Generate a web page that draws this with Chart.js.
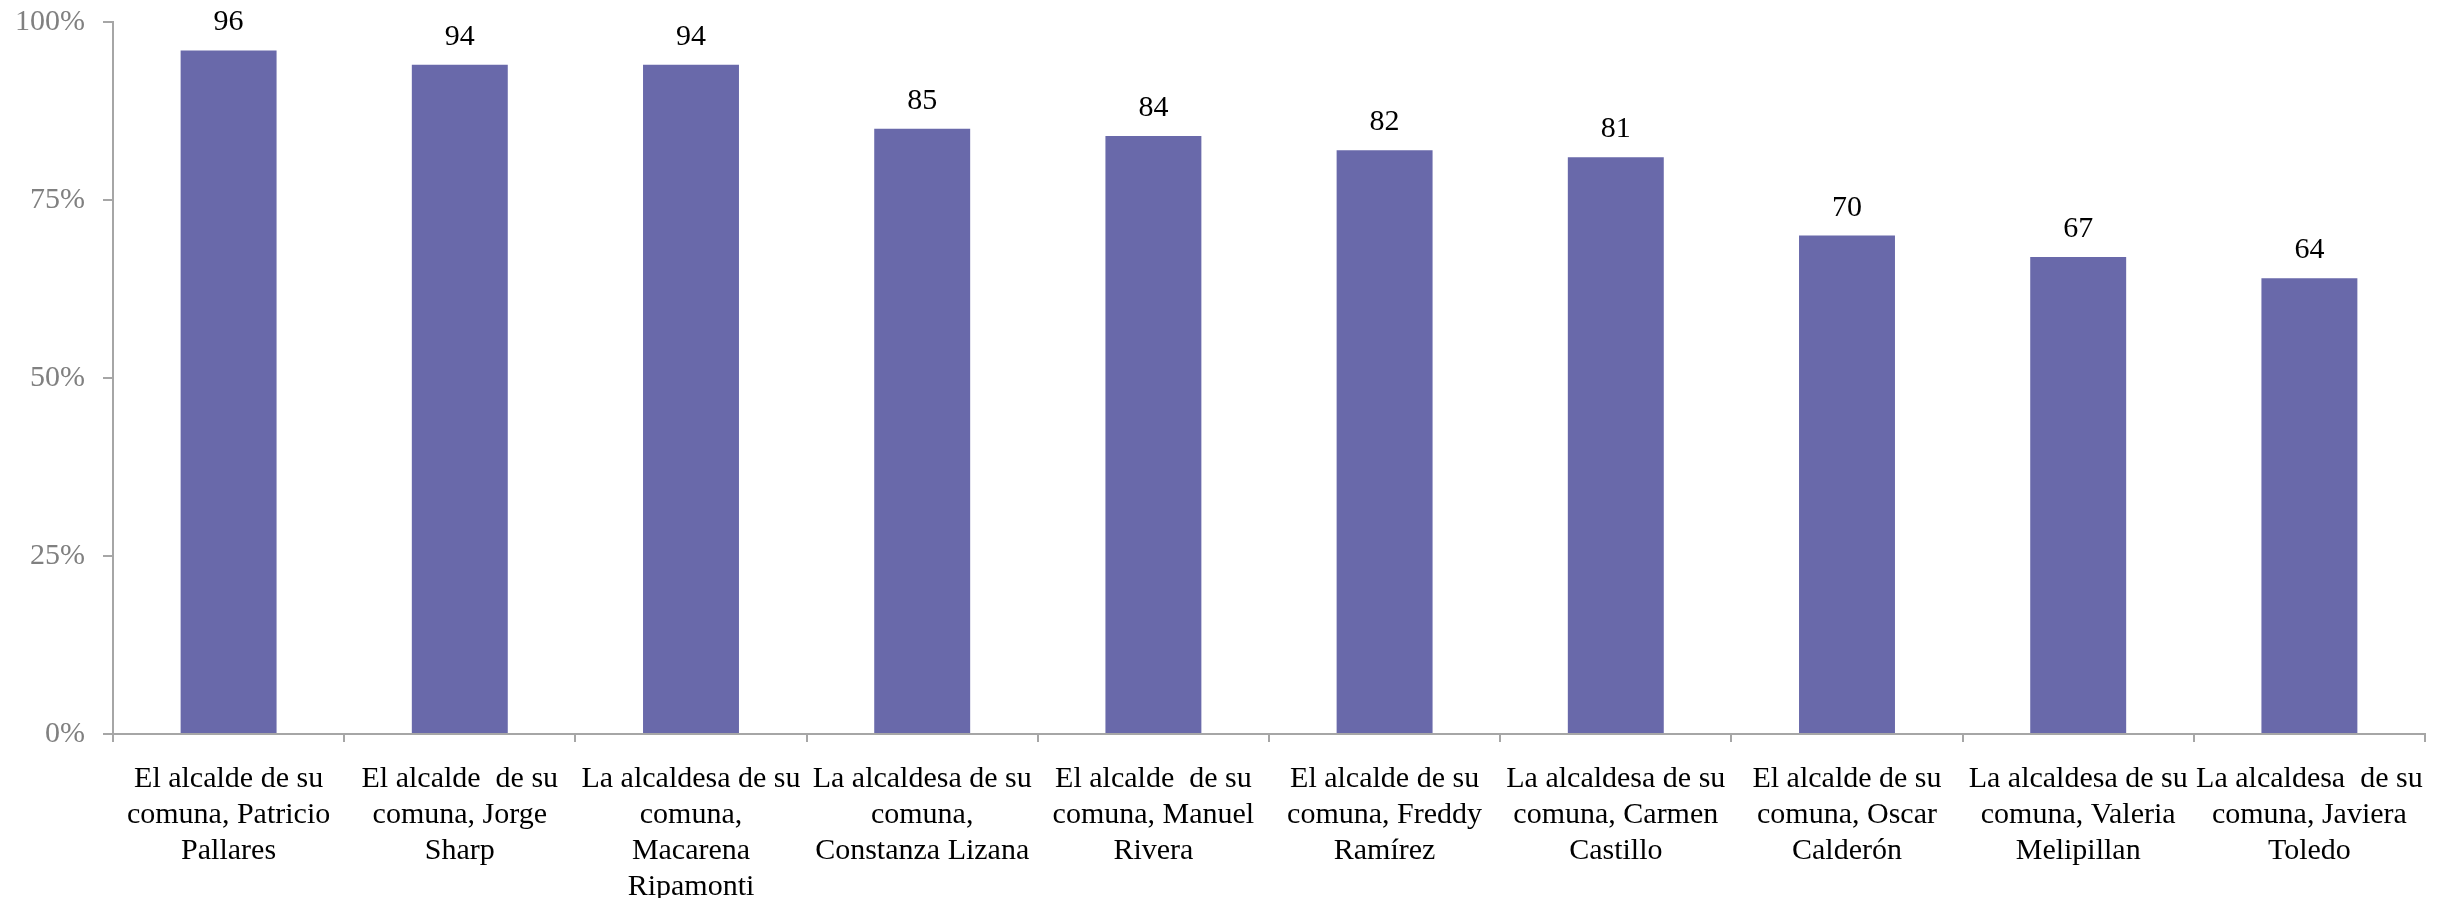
<!DOCTYPE html>
<html>
<head>
<meta charset="utf-8">
<script src="https://cdn.jsdelivr.net/npm/chart.js@4/dist/chart.umd.min.js"></script>
<style>
  html, body { margin: 0; padding: 0; background: #ffffff; }
  #wrap { width: 2450px; height: 898px; position: relative; }
</style>
</head>
<body>
<div id="wrap"><canvas id="c" width="2450" height="898"></canvas></div>
<script>
const categories = [
  ["El alcalde de su", "comuna, Patricio", "Pallares"],
  ["El alcalde  de su", "comuna, Jorge", "Sharp"],
  ["La alcaldesa de su", "comuna,", "Macarena", "Ripamonti"],
  ["La alcaldesa de su", "comuna,", "Constanza Lizana"],
  ["El alcalde  de su", "comuna, Manuel", "Rivera"],
  ["El alcalde de su", "comuna, Freddy", "Ramírez"],
  ["La alcaldesa de su", "comuna, Carmen", "Castillo"],
  ["El alcalde de su", "comuna, Oscar", "Calderón"],
  ["La alcaldesa de su", "comuna, Valeria", "Melipillan"],
  ["La alcaldesa  de su", "comuna, Javiera", "Toledo"]
];
const values = [96, 94, 94, 85, 84, 82, 81, 70, 67, 64];
const yTicks = [0, 25, 50, 75, 100];

const FONT = "'Liberation Serif', 'Times New Roman', serif";

const valueLabels = {
  id: 'valueLabels',
  afterDatasetsDraw(chart) {
    const ctx = chart.ctx;
    const meta = chart.getDatasetMeta(0);
    ctx.save();
    ctx.font = "30px " + FONT;
    ctx.fillStyle = '#000000';
    ctx.textAlign = 'center';
    ctx.textBaseline = 'alphabetic';
    meta.data.forEach((el, i) => {
      ctx.fillText(String(values[i]), el.x, el.y - 20);
    });
    ctx.restore();
  }
};

new Chart(document.getElementById('c'), {
  type: 'bar',
  data: {
    labels: categories,
    datasets: [{
      data: values,
      backgroundColor: '#6969AA',
      borderWidth: 0,
      barPercentage: 0.415,
      categoryPercentage: 1.0
    }]
  },
  options: {
    responsive: false,
    animation: false,
    devicePixelRatio: 1,
    layout: { padding: { top: 22, right: 25, bottom: 0, left: 15 } },
    plugins: { legend: { display: false }, tooltip: { enabled: false } },
    scales: {
      x: {
        grid: { display: true, drawOnChartArea: false, color: '#A6A6A6', lineWidth: 2, tickLength: 8, offset: true },
        border: { display: true, color: '#A6A6A6', width: 2 },
        ticks: {
          color: '#000000',
          font: { family: FONT, size: 30, lineHeight: 1.2 },
          padding: 19,
          maxRotation: 0, minRotation: 0,
          autoSkip: false
        },
        afterFit(scale) { scale.height = 898 - 734; scale.paddingLeft = 0; scale.paddingRight = 0; }
      },
      y: {
        min: 0, max: 100,
        afterBuildTicks(scale) { scale.ticks = yTicks.map(v => ({ value: v })); },
        grid: { display: true, drawOnChartArea: false, color: '#A6A6A6', lineWidth: 2, tickLength: 10 },
        border: { display: true, color: '#A6A6A6', width: 2 },
        ticks: {
          color: '#808080',
          font: { family: FONT, size: 30, lineHeight: 1.2 },
          padding: 18,
          callback: v => v + '%'
        },
        afterFit(scale) { scale.width = 113 - 15; scale.paddingTop = 0; scale.paddingBottom = 0; }
      }
    }
  },
  plugins: [valueLabels]
});
</script>
</body>
</html>
